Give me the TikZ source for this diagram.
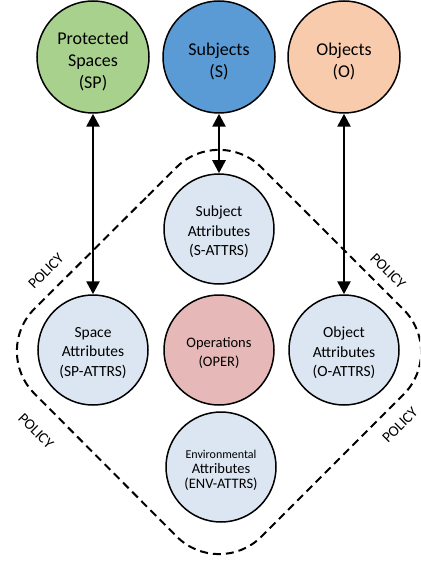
\documentclass[tikz,border=0pt]{standalone}
\usepackage{fontspec}
\setmainfont{Carlito}
\usetikzlibrary{arrows.meta}
\definecolor{spgreen}{RGB}{169,209,142}
\definecolor{sblue}{RGB}{91,155,213}
\definecolor{opeach}{RGB}{248,203,173}
\definecolor{attrblue}{RGB}{220,230,242}
\definecolor{operpink}{RGB}{230,185,184}
\begin{document}
\begin{tikzpicture}[x=1pt,y=-1pt,
  circbase/.style={circle,draw=black,line width=1.5pt,inner sep=0pt},
  bigcirc/.style={circbase,minimum size=112pt},
  attcirc/.style={circbase,minimum size=110pt,fill=attrblue},
  bigtxt/.style={align=center,inner sep=0pt,yshift=-5pt,font=\fontsize{18}{22}\selectfont},
  atttxt/.style={align=center,inner sep=0pt,yshift=-3pt,font=\fontsize{15.5}{19.5}\selectfont},
  biarrow/.style={line width=2.6pt,{Triangle[length=13pt,width=13pt]}-{Triangle[length=13pt,width=13pt]}},
  policytxt/.style={font=\fontsize{15}{17}\selectfont,inner sep=0pt},
  policyline/.style={line width=2pt,dash pattern=on 8pt off 5pt,rounded corners=60pt}]
\useasboundingbox (0,0) rectangle (420,561);
\clip (0,0) rectangle (420,561);
% dashed policy boundary
\coordinate (dT) at (219,125);
\coordinate (dR) at (446,352);
\coordinate (dB) at (219,579);
\coordinate (dL) at (-8,351);
\coordinate (dS) at (105.5,238);
\draw[policyline] (dS) -- (dT) -- (dR) -- (dB) -- (dL) -- cycle;
% top entities
\node[bigcirc,fill=spgreen,label={[bigtxt]center:{Protected\\Spaces\\(SP)}}] (SP) at (93,57) {};
\node[bigcirc,fill=sblue,label={[bigtxt]center:{Subjects\\(S)}}] (S) at (219,57) {};
\node[bigcirc,fill=opeach,label={[bigtxt]center:{Objects\\(O)}}] (O) at (344,57) {};
% attributes
\node[attcirc,label={[atttxt]center:{Subject\\Attributes\\(S-ATTRS)}}] (SA) at (219,229) {};
\node[attcirc,label={[atttxt]center:{Space\\Attributes\\(SP-ATTRS)}}] (SPA) at (93,350) {};
\node[attcirc,fill=operpink,label={[atttxt,font=\fontsize{14.5}{19}\selectfont]center:{Operations\\(OPER)}}] (OPER) at (219,350) {};
\node[attcirc,label={[atttxt]center:{Object\\Attributes\\(O-ATTRS)}}] (OA) at (344,350) {};
\node[attcirc,label={[atttxt,font=\fontsize{12}{15}\selectfont]center:{Environmental\\{\fontsize{14.5}{18}\selectfont Attributes}\\{\fontsize{14.5}{18}\selectfont (ENV-ATTRS)}}}] (ENV) at (221,467) {};
% arrows
\draw[biarrow] (SP.south) -- (SPA.north);
\draw[biarrow] (S.south) -- (SA.north);
\draw[biarrow] (O.south) -- (OA.north);
% policy labels
\node[policytxt,rotate=45] (p1) at (46,271) {POLICY};
\node[policytxt,rotate=-45] (p2) at (388,271) {POLICY};
\node[policytxt,rotate=-45] (p3) at (36,431) {POLICY};
\node[policytxt,rotate=45] (p4) at (400,425) {POLICY};
\end{tikzpicture}
\end{document}
